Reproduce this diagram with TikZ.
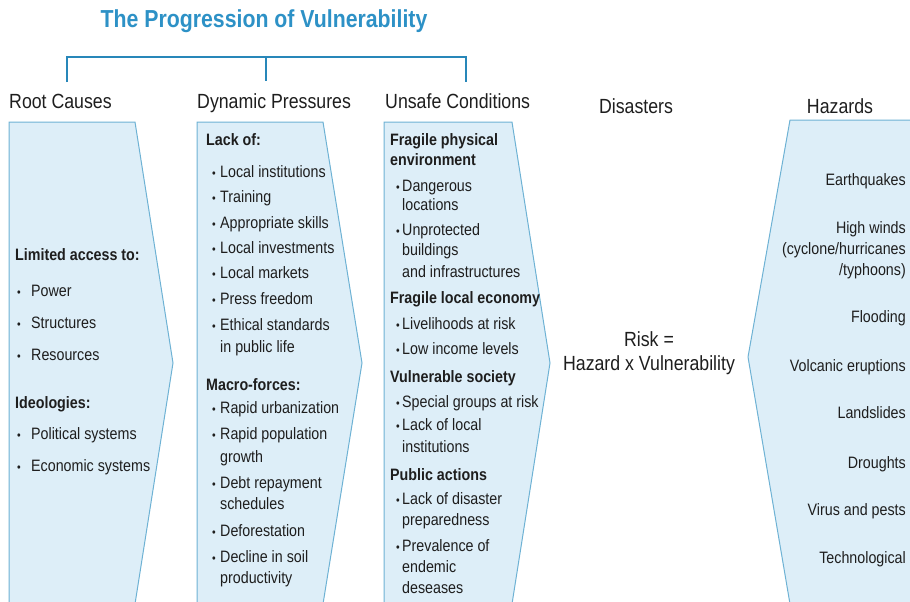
\documentclass[tikz,border=0pt]{standalone}
\usepackage{fontspec}
\setmainfont{Liberation Sans}[FakeStretch=0.865]
\definecolor{boxfill}{RGB}{221,238,248}
\definecolor{boxline}{RGB}{110,178,212}
\definecolor{titleblue}{RGB}{45,145,198}
\definecolor{brack}{RGB}{40,135,185}
\definecolor{txt}{RGB}{30,30,30}
\newcommand\bul[1]{\makebox[#1][l]{\fontsize{12}{12}\selectfont\raisebox{-0.3pt}{•}}}
\tikzset{
  body/.style={font=\fontsize{16.5}{19}\selectfont, text=txt, inner sep=0pt, anchor=mid west, yshift=-3pt},
  bodyb/.style={body, font=\fontsize{16.5}{19}\selectfont\bfseries},
  hz/.style={body, anchor=mid east},
  head/.style={font=\fontsize{20.5}{24}\selectfont, text=txt, inner sep=0pt, yshift=-3pt},
  colbox/.style={fill=boxfill},
  colline/.style={draw=boxline, line width=1pt, line join=miter},
  bracketline/.style={draw=brack, line width=2pt}
}
\begin{document}
\begin{tikzpicture}[x=1pt,y=-1pt]
\useasboundingbox (0,0) rectangle (910,602);
\begin{scope}
\clip (0,0) rectangle (910,602);
% column shapes
\fill[colbox] (9,604) -- (9,122) -- (135,122) -- (173,363) -- (135,604) -- cycle;
\draw[colline] (9,604) -- (9,122) -- (135,122) -- (173,363) -- (135,604);
\fill[colbox] (197,604) -- (197,122) -- (323,122) -- (362,363) -- (323,604) -- cycle;
\draw[colline] (197,604) -- (197,122) -- (323,122) -- (362,363) -- (323,604);
\fill[colbox] (384,604) -- (384,122) -- (512,122) -- (550,363) -- (512,604) -- cycle;
\draw[colline] (384,604) -- (384,122) -- (512,122) -- (550,363) -- (512,604);
\fill[colbox] (912,604) -- (912,120) -- (790,120) -- (748,357) -- (790,604) -- cycle;
\draw[colline] (912,120) -- (790,120) -- (748,357) -- (790,604);
\end{scope}

% title and bracket
\node[font=\fontsize{24.6}{28}\selectfont\bfseries, text=titleblue, inner sep=0pt, yshift=-3pt] (title) at (264,18) {The Progression of Vulnerability};
\coordinate (bl) at (67,82);
\coordinate (bm) at (266,81);
\coordinate (br) at (466,82);
\draw[bracketline, line join=miter] (bl) -- (bl |- 0,57) -- (br |- 0,57) -- (br);
\draw[bracketline] (bm |- 0,57) -- (bm);

% headers
\node[head, anchor=mid west] (hrc) at (9,103) {Root Causes};
\node[head, anchor=mid west] (hdp) at (197,103) {Dynamic Pressures};
\node[head, anchor=mid west] (hus) at (385,103) {Unsafe Conditions};
\node[head] (hdis) at (636,103) {Disasters};
\node[head] (hhaz) at (840,103) {Hazards};

% root causes
\node[bodyb] (rc1) at (15,255) {Limited access to:};
\node[body] (rc2) at (17,291) {\bul{14pt}Power};
\node[body] (rc3) at (17,323) {\bul{14pt}Structures};
\node[body] (rc4) at (17,355) {\bul{14pt}Resources};
\node[bodyb] (rc5) at (15,403) {Ideologies:};
\node[body] (rc6) at (17,434) {\bul{14pt}Political systems};
\node[body] (rc7) at (17,466) {\bul{14pt}Economic systems};

% dynamic pressures
\node[bodyb] (dp0) at (206,140) {Lack of:};
\foreach \y/\t [count=\i] in {172/{Local institutions},197/{Training},223/{Appropriate skills},248/{Local investments},273/{Local markets},299/{Press freedom},325/{Ethical standards}}
  \node[body] (dpa\i) at (212,\y) {\bul{8pt}\t};
\node[body] (dpa8) at (220,347) {in public life};
\node[bodyb] (dp9) at (206,385) {Macro-forces:};
\foreach \y/\t [count=\i] in {408/{Rapid urbanization},434/{Rapid population},483/{Debt repayment},531/{Deforestation},557/{Decline in soil}}
  \node[body] (dpb\i) at (212,\y) {\bul{8pt}\t};
\node[body] (dpc1) at (220,457) {growth};
\node[body] (dpc2) at (220,504) {schedules};
\node[body] (dpc3) at (220,578) {productivity};

% unsafe conditions
\node[bodyb] (us1) at (390,140) {Fragile physical};
\node[bodyb] (us2) at (390,160) {environment};
\node[body] (us3) at (396,186) {\bul{6pt}Dangerous};
\node[body] (us4) at (402,205) {locations};
\node[body] (us5) at (396,230) {\bul{6pt}Unprotected};
\node[body] (us6) at (402,250) {buildings};
\node[body] (us7) at (402,272) {and infrastructures};
\node[bodyb] (us8) at (390,298) {Fragile local economy};
\node[body] (us9) at (396,324) {\bul{6pt}Livelihoods at risk};
\node[body] (us10) at (396,349) {\bul{6pt}Low income levels};
\node[bodyb] (us11) at (390,377) {Vulnerable society};
\node[body] (us12) at (396,402) {\bul{6pt}Special groups at risk};
\node[body] (us13) at (396,425) {\bul{6pt}Lack of local};
\node[body] (us14) at (402,447) {institutions};
\node[bodyb] (us15) at (390,475) {Public actions};
\node[body] (us16) at (396,499) {\bul{6pt}Lack of disaster};
\node[body] (us17) at (402,520) {preparedness};
\node[body] (us18) at (396,546) {\bul{6pt}Prevalence of};
\node[body] (us19) at (402,567) {endemic};
\node[body] (us20) at (402,588) {deseases};

% disasters
\node[head, align=center] (risk) at (649,350) {Risk =\\Hazard x Vulnerability};

% hazards
\node[hz] (hz1) at (906,180) {Earthquakes};
\node[hz] (hz2) at (906,228) {High winds};
\node[hz] (hz3) at (906,249) {(cyclone/hurricanes};
\node[hz] (hz4) at (906,270) {/typhoons)};
\node[hz] (hz5) at (906,317) {Flooding};
\node[hz] (hz6) at (906,366) {Volcanic eruptions};
\node[hz] (hz7) at (906,413) {Landslides};
\node[hz] (hz8) at (906,463) {Droughts};
\node[hz] (hz9) at (906,510) {Virus and pests};
\node[hz] (hz10) at (906,558) {Technological};
\end{tikzpicture}
\end{document}
